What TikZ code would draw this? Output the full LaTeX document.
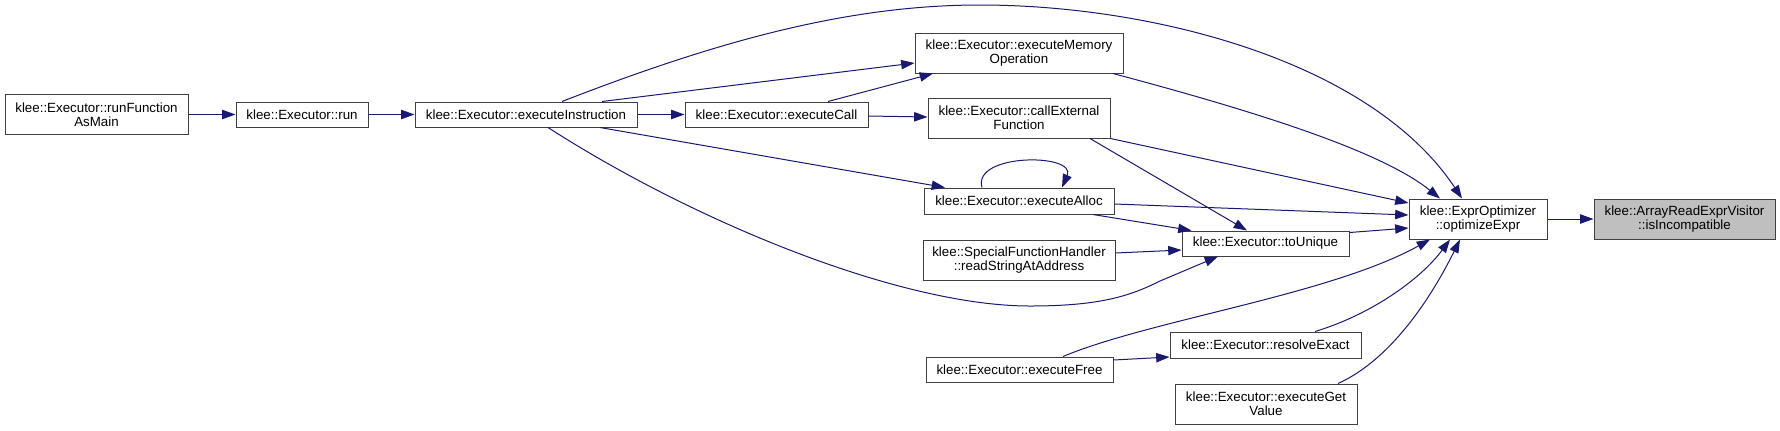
\documentclass[tikz,border=0pt]{standalone}
\usepackage{fontspec}
\setmainfont{Liberation Sans}
\usetikzlibrary{arrows.meta,calc}
\definecolor{callblue}{HTML}{191970}
\definecolor{frame}{HTML}{404040}
\definecolor{hit}{HTML}{BFBFBF}
\tikzset{
  font=\fontsize{10}{10.3}\selectfont,
  >={Triangle[length=10pt,width=7pt]},
  fn/.style    = {draw=frame, fill=white, line width=0.75pt, align=center,
                  inner sep=0pt, minimum height=25*0.75pt, text=black},
  fn2/.style   = {fn, minimum height=40*0.75pt},
  wd/.style    = {minimum width=#1*0.75pt},
  focus/.style = {fn2, fill=hit},
  call/.style  = {->, draw=callblue, line width=0.75pt},
}

\begin{document}
\begin{tikzpicture}[x=0.75pt, y=-0.75pt]
\useasboundingbox (0,0) rectangle (1780,430);

% ---- callers, left to right -------------------------------------------
\node[fn2, wd=183] at (96.5,114.5) (rfm) {klee::Executor::runFunction\\AsMain};
\node[fn,  wd=132] at (302,114.5)  (run) {klee::Executor::run};
\node[fn,  wd=222] at (526,114.5)  (ei)  {klee::Executor::executeInstruction};
\node[fn,  wd=183] at (776.5,114.5) (ec) {klee::Executor::executeCall};

% ---- middle column ------------------------------------------------------
\node[fn2, wd=208] at (1019,53)    (emo) {klee::Executor::executeMemory\\Operation};
\node[fn2, wd=182] at (1019,118)   (cef) {klee::Executor::callExternal\\Function};
\node[fn,  wd=190, minimum height=26*0.75pt] at (1019,201) (ea) {klee::Executor::executeAlloc};
\node[fn2, wd=192] at (1019,260)   (sfh) {klee::SpecialFunctionHandler\\::readStringAtAddress};
\node[fn,  wd=187] at (1019.5,369.5) (ef) {klee::Executor::executeFree};

% ---- second column ------------------------------------------------------
\node[fn,  wd=167] at (1265.5,243.5) (tu) {klee::Executor::toUnique};
\node[fn,  wd=191, minimum height=26*0.75pt] at (1265.5,345) (re) {klee::Executor::resolveExact};
\node[fn2, wd=182] at (1266,404)   (egv) {klee::Executor::executeGet\\Value};

% ---- callee and the function itself ------------------------------------
\node[fn2,   wd=138] at (1478,219)   (oe) {klee::ExprOptimizer\\::optimizeExpr};
\node[focus, wd=181] at (1684.5,219) (ii) {klee::ArrayReadExprVisitor\\::isIncompatible};

% ---- straight calls -----------------------------------------------------
\draw[call] (rfm.east) -- (run.west);
\draw[call] (run.east) -- (ei.west);
\draw[call] (ei.east) -- (ec.west);
\draw[call] ($(ec.east)+(0,1.5)$) -- ($(cef.west)+(0,-1)$);
\draw[call] ($(ei.north)+(76,0)$) -- ($(emo.west)+(0,10)$);
\draw[call] ($(ec.north)+(51.5,0)$) -- ($(emo.south)+(-86,0)$);
\draw[call] ($(ei.south)+(74,0)$) -- ($(ea.north)+(-74,0)$);
\draw[call] (cef.south east) -- ($(oe.west)+(0,-16)$);
\draw[call] ($(cef.south)+(71,0)$) -- ($(tu.north)+(-18.5,0)$);
\draw[call] ($(ea.east)+(0,3)$) -- ($(oe.west)+(0,-4)$);
\draw[call] ($(ea.south)+(74,0)$) -- ($(tu.north west)+(10,0)$);
\draw[call] ($(sfh.east)+(0,-7)$) -- ($(tu.west)+(0,6.5)$);
\draw[call] ($(tu.north east)+(0,2)$) -- ($(oe.west)+(0,9)$);
\draw[call] ($(ef.east)+(0,-9.5)$) -- ($(re.west)+(0,12)$);
\draw[call] (oe.east) -- (ii.west);

% ---- executeAlloc calls itself -----------------------------------------
\draw[call] ($(ea.north)+(-37,0)$) .. controls (972,153) and (1077,153) .. ($(ea.north)+(43,0)$);

% ---- curved calls -------------------------------------------------------
\draw[call] ($(ei.north)+(36,0)$) .. controls (720,40) and (850,5) .. (980,5)
  .. controls (1150,5) and (1370,60) .. ($(oe.north)+(-16,0)$);
\draw[call] ($(ei.south)+(22,0)$) .. controls (695,222) and (900,306) .. (1030,306)
  .. controls (1100,306) and (1130,296) .. (1160,281) -- ($(tu.south)+(-47.5,0)$);
\draw[call] ($(emo.south)+(94,0)$) .. controls (1250,110) and (1380,150) .. ($(oe.north)+(-38,0)$);
\draw[call] ($(ef.north)+(43.5,0)$) .. controls (1150,320) and (1330,295) .. ($(oe.south)+(-48,0)$);
\draw[call] ($(re.north)+(49.5,0)$) .. controls (1370,315) and (1420,280) .. ($(oe.south)+(-28,0)$);
\draw[call] ($(egv.north)+(72,0)$) .. controls (1390,360) and (1430,300) .. ($(oe.south)+(-18,0)$);

\end{tikzpicture}
\end{document}
